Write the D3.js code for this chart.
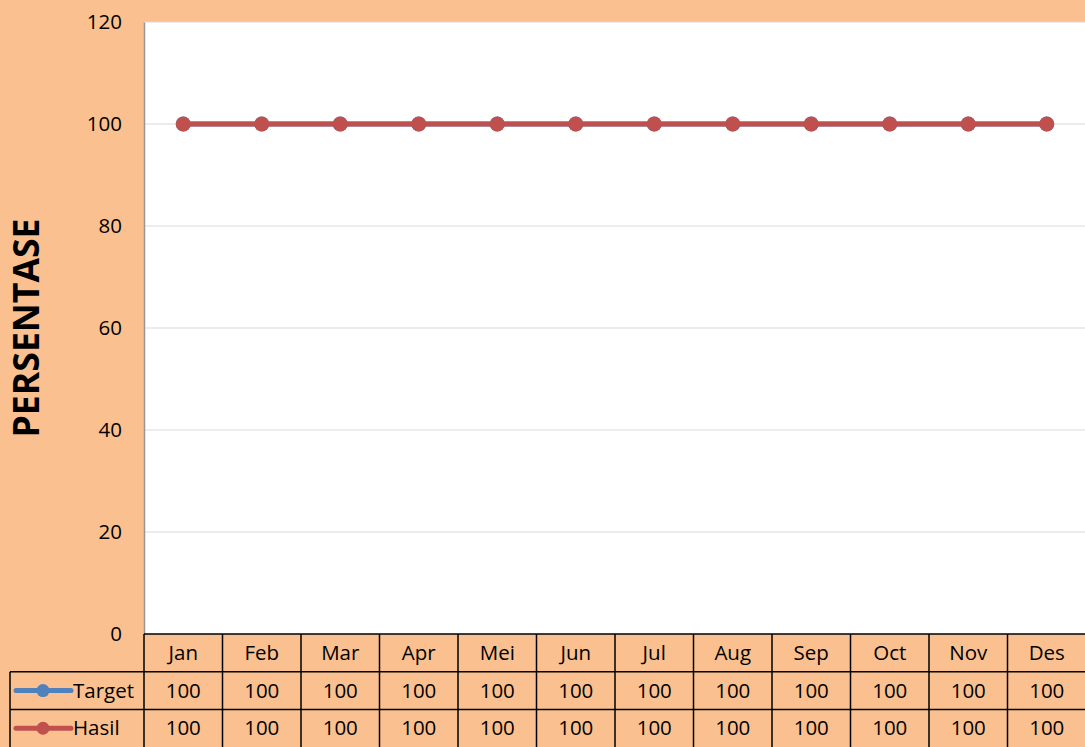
<!DOCTYPE html>
<html>
<head>
<meta charset="utf-8">
<script src="https://cdn.jsdelivr.net/npm/d3@7"></script>
<style>
  body { margin: 0; background: #FAC090; }
  text { font-family: "Open Sans", "Noto Sans", sans-serif; fill: #000; }
</style>
</head>
<body>
<svg id="chart"></svg>
<script>
// data
const months = ["Jan", "Feb", "Mar", "Apr", "Mei", "Jun", "Jul", "Aug", "Sep", "Oct", "Nov", "Des"];
const target = [100, 100, 100, 100, 100, 100, 100, 100, 100, 100, 100, 100];
const hasil = [100, 100, 100, 100, 100, 100, 100, 100, 100, 100, 100, 100];
const yTicks = [0, 20, 40, 60, 80, 100, 120];

const seriesList = [
    { name: "Target", values: target, color: "#4F81BD" },
    { name: "Hasil", values: hasil, color: "#C0504D" },
];

const W = 1085, H = 747;
const plot = { left: 144, right: 1086, top: 22, bottom: 634 };
const rowH = 37.7;
const legendLeft = 10;
const fontSize = "20.5px";

const svg = d3.select("#chart").attr("width", W).attr("height", H);

svg.append("rect").attr("width", W).attr("height", H).attr("fill", "#FAC090");

const x = d3.scaleBand().domain(months).range([plot.left, plot.right]);
const y = d3.scaleLinear().domain([0, 120]).range([plot.bottom, plot.top]);

// plot area
svg.append("rect")
    .attr("x", plot.left).attr("y", plot.top)
    .attr("width", plot.right - plot.left).attr("height", plot.bottom - plot.top)
    .attr("fill", "#fff");

// gridlines
svg.append("g").selectAll("line")
    .data(yTicks.filter(d => d > 0))
    .join("line")
    .attr("x1", plot.left).attr("x2", plot.right)
    .attr("y1", d => y(d)).attr("y2", d => y(d))
    .attr("stroke", "#d9d9d9").attr("stroke-width", 1);

// y axis
const yAxis = svg.append("g")
    .attr("transform", `translate(${plot.left},0)`)
    .call(d3.axisLeft(y).tickValues(yTicks).tickSize(0).tickPadding(22));
yAxis.select(".domain").attr("stroke", "#969696").attr("stroke-width", 1.5);
yAxis.selectAll("text").style("font-size", fontSize);

// y title
svg.append("text")
    .attr("transform", `translate(39,${(plot.top + plot.bottom) / 2}) rotate(-90)`)
    .attr("text-anchor", "middle")
    .attr("textLength", 219)
    .attr("lengthAdjust", "spacingAndGlyphs")
    .style("font-size", "35px")
    .style("font-weight", "bold")
    .text("PERSENTASE");

// lines
const line = d3.line()
    .x((d, i) => x(months[i]) + x.bandwidth() / 2)
    .y(d => y(d));

seriesList.forEach(s => {
    svg.append("path")
        .datum(s.values)
        .attr("d", line)
        .attr("fill", "none")
        .attr("stroke", s.color)
        .attr("stroke-width", 5);
    svg.append("g").selectAll("circle")
        .data(s.values)
        .join("circle")
        .attr("cx", (d, i) => x(months[i]) + x.bandwidth() / 2)
        .attr("cy", d => y(d))
        .attr("r", 7.5)
        .attr("fill", s.color);
});

// data table
const table = svg.append("g");
const tableBottom = plot.bottom + rowH * 3;

// header cells
table.selectAll("text.month")
    .data(months)
    .join("text")
    .attr("class", "month")
    .attr("x", d => x(d) + x.bandwidth() / 2)
    .attr("y", plot.bottom + rowH / 2)
    .attr("dy", "0.35em")
    .attr("text-anchor", "middle")
    .style("font-size", fontSize)
    .text(d => d);

seriesList.forEach((s, r) => {
    const rowY = plot.bottom + rowH * (r + 1);
    table.append("g").selectAll("text")
        .data(s.values)
        .join("text")
        .attr("x", (d, i) => x(months[i]) + x.bandwidth() / 2)
        .attr("y", rowY + rowH / 2)
        .attr("dy", "0.35em")
        .attr("text-anchor", "middle")
        .style("font-size", fontSize)
        .text(d => d);

    // legend key
    const ky = rowY + rowH / 2;
    table.append("line")
        .attr("x1", legendLeft + 6).attr("x2", legendLeft + 61)
        .attr("y1", ky).attr("y2", ky)
        .attr("stroke", s.color).attr("stroke-width", 5)
        .attr("stroke-linecap", "round");
    table.append("circle")
        .attr("cx", legendLeft + 33).attr("cy", ky).attr("r", 6.5)
        .attr("fill", s.color);
    table.append("text")
        .attr("x", legendLeft + 63).attr("y", ky)
        .attr("dy", "0.35em")
        .style("font-size", fontSize)
        .text(s.name);
});

// table grid lines
const gridColor = "#000";
// horizontal
[plot.bottom, plot.bottom + rowH, plot.bottom + rowH * 2].forEach((yy, i) => {
    table.append("line")
        .attr("x1", i === 0 ? plot.left : legendLeft).attr("x2", plot.right)
        .attr("y1", yy).attr("y2", yy)
        .attr("stroke", gridColor).attr("stroke-width", 1.5);
});
// vertical
months.forEach(m => {
    table.append("line")
        .attr("x1", x(m)).attr("x2", x(m))
        .attr("y1", plot.bottom).attr("y2", tableBottom)
        .attr("stroke", gridColor).attr("stroke-width", 1.5);
});
table.append("line")
    .attr("x1", legendLeft).attr("x2", legendLeft)
    .attr("y1", plot.bottom + rowH).attr("y2", tableBottom)
    .attr("stroke", gridColor).attr("stroke-width", 1.5);
</script>
</body>
</html>
